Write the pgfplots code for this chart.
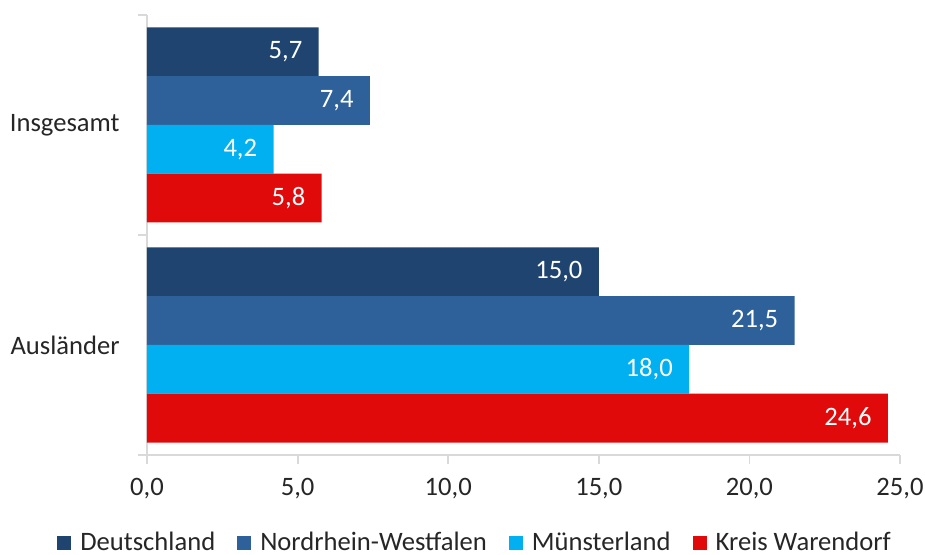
\documentclass[border=0pt]{standalone}
\usepackage{fontspec}
\setmainfont{Carlito}
\usepackage{pgfplots}
\pgfplotsset{compat=1.18}
\definecolor{cDE}{HTML}{1F4470}
\definecolor{cNRW}{HTML}{2E6199}
\definecolor{cMS}{HTML}{00B0F0}
\definecolor{cWAF}{HTML}{E00A0A}
\definecolor{axgray}{HTML}{D9D9D9}
\definecolor{txt}{HTML}{262626}
\begin{document}
\begin{tikzpicture}
\begin{axis}[
  name=ax,
  scale only axis, width=376.5pt, height=220pt,
  xmin=0, xmax=25, ymin=-0.5, ymax=1.5,
  xbar, bar width=0.2216,
  axis lines*=left,
  axis line style={draw=axgray, line width=0.9pt},
  every tick/.style={draw=axgray, line width=0.9pt},
  tick align=outside,
  major tick length=4.5pt,
  xtick={0,5,10,15,20,25},
  xticklabel style={yshift=-3.5pt},
  ytick={-0.5,0.5,1.5}, yticklabels={},
  extra y ticks={0,1},
  extra y tick labels={Ausländer,Insgesamt},
  extra y tick style={major tick length=0pt, tick label style={inner sep=0pt, xshift=-13.5pt}},
  font=\fontsize{13.3pt}{16pt}\selectfont,
  tick label style={text=txt, font=\fontsize{13.3pt}{16pt}\selectfont},
  /pgf/number format/.cd, fixed, fixed zerofill, precision=1, use comma, assume math mode=true,
  /pgfplots/.cd,
  nodes near coords,
  nodes near coords style={anchor=east, text=white, inner sep=0pt, xshift=-8pt,
    font=\fontsize{13.3pt}{16pt}\selectfont,
    /pgf/number format/.cd, fixed, fixed zerofill, precision=1, use comma, assume math mode=true},
  legend columns=4,
  legend style={at={(0.437,-0.2)}, anchor=center, draw=none, fill=none,
    font=\fontsize{13.3pt}{16pt}\selectfont, text=txt,
    /tikz/every odd column/.append style={column sep=2.5pt},
    /tikz/every even column/.append style={column sep=9pt}},
  legend image code/.code={\fill[#1] (0pt,-3.5pt) rectangle (7pt,3.5pt);},
]
\addplot[fill=cDE, draw=none, bar shift=0.3324] coordinates {(5.7,1) (15.0,0)};
\addplot[fill=cNRW, draw=none, bar shift=0.1108] coordinates {(7.4,1) (21.5,0)};
\addplot[fill=cMS, draw=none, bar shift=-0.1108] coordinates {(4.2,1) (18.0,0)};
\addplot[fill=cWAF, draw=none, bar shift=-0.3324] coordinates {(5.8,1) (24.6,0)};
\legend{Deutschland,Nordrhein-Westfalen,Münsterland,Kreis Warendorf}
\end{axis}
\pgfresetboundingbox
\path[use as bounding box] ([xshift=-73.5pt,yshift=7.5pt]ax.north west) rectangle ([xshift=12.5pt,yshift=-50pt]ax.south east);
\end{tikzpicture}
\end{document}
